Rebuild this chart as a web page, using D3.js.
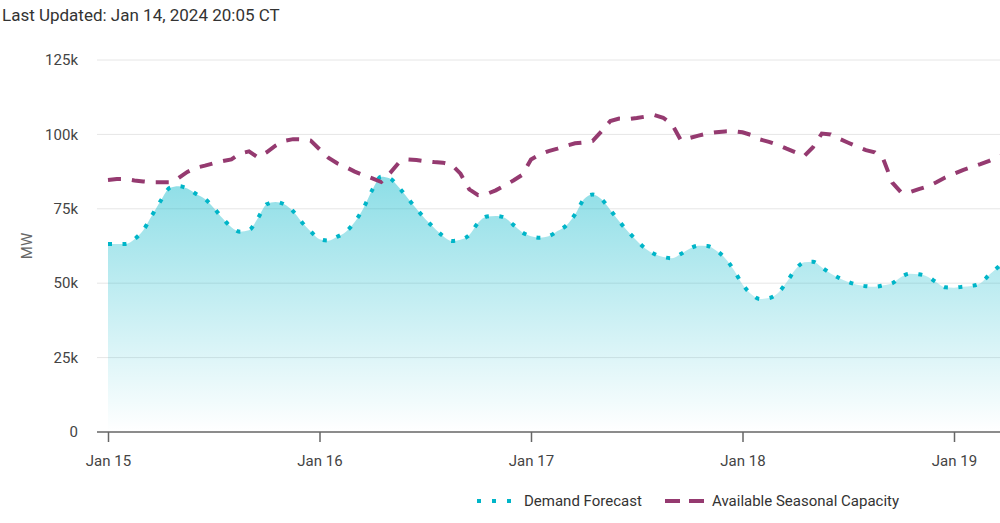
<!DOCTYPE html>
<html>
<head>
<meta charset="utf-8">
<script src="https://cdn.jsdelivr.net/npm/d3@7"></script>
<style>
  html, body { margin: 0; padding: 0; background: #fff; }
  body { width: 1000px; height: 523px; overflow: hidden; font-family: Roboto, "Noto Sans", sans-serif; }
  svg { display: block; }
</style>
</head>
<body>
<svg id="chart" width="1000" height="523"></svg>
<script>
// ---- data (hours after Jan 15, 2024 00:00, values in MW) ----
const startDate = "2024-01-15T00:00:00";
const demandHours = [0,2,3,4,5,6,7,8,9,10,11,12,13,14,15,16,17,18,19,20,21,22,23,24,25,26,27,28,29,30,31,32,33,34,35,36,37,38,39,40,41,42,43,44,45,46,47,48,49,50,51,52,53,54,55,56,57,58,59,60,61,62,63,64,65,66,67,68,69,70,71,72,73,74,75,76,77,78,79,80,81,82,83,84,85,86,87,88,89,90,91,92,93,94,95,96,97,98,99,100,101,102];
const demandValues = [63200,63200,64800,67800,72800,77800,82000,82600,81800,80000,78300,75300,71800,68800,67300,67800,71800,76500,77300,76500,74200,70500,67400,64800,64300,65600,67300,70600,75300,81400,85800,85200,82200,78600,75000,71600,68600,65900,64200,64600,66200,70300,72400,72600,72000,69600,67100,65800,65300,65800,67500,69400,73100,78200,79800,78200,74600,70800,67400,64300,61600,59800,58800,58400,59800,61600,62600,62500,61000,58500,54500,49600,46300,44700,45000,46600,50300,54600,57000,57200,55300,53300,51700,50400,49500,49000,48800,49300,50000,52100,53200,53000,52200,50300,48600,48500,48800,49100,50000,52800,55400,57500];
const capacityHours = [0,1,2,3,4,5,6,7,8,9,10,11,12,13,14,15,16,17,18,19,20,21,22,23,24,25,26,27,28,29,30,31,32,33,34,35,36,37,38,39,40,41,42,43,44,45,46,47,48,49,50,51,52,53,54,55,56,57,58,59,60,61,62,63,64,65,66,67,68,69,70,71,72,73,74,75,76,77,78,79,80,81,82,83,84,85,86,87,88,89,90,91,92,93,94,95,96,97,98,99,100,101,102];
const capacityValues = [84700,85000,85000,84500,84200,83900,83900,83900,85300,87400,88800,89500,90300,91000,91600,93600,94300,92300,94000,96200,97800,98400,98300,97900,95000,92200,90300,89000,87500,86300,85200,84000,87000,90500,91600,91400,91000,90700,90500,89800,86800,81500,79600,80000,81200,82800,84500,86400,91600,93300,94400,95200,96200,97000,97300,97800,101000,104500,105300,105100,105500,106000,106500,105600,103400,98100,98800,99600,100300,100700,101000,101100,100700,99800,98300,97500,96500,95200,94000,92700,95700,100300,100000,98500,97200,95900,94700,94000,91500,83800,80500,80600,81600,82500,83900,85500,86800,88000,89000,90000,91100,92500,93500];
const yTicks = [0, 25000, 50000, 75000, 100000, 125000];
const xTickDates = ["2024-01-15", "2024-01-16", "2024-01-17", "2024-01-18", "2024-01-19"];
const seriesNames = ["Demand Forecast", "Available Seasonal Capacity"];
const titleText = "Last Updated: Jan 14, 2024 20:05 CT";

// ---- build ----
const t0 = new Date(startDate);
const toDate = h => new Date(t0.getTime() + h * 3600 * 1000);
const demand = demandHours.map((h, i) => ({ t: toDate(h), v: demandValues[i] }));
const capacity = capacityHours.map((h, i) => ({ t: toDate(h), v: capacityValues[i] }));
const xTicks = xTickDates.map(d => new Date(d + "T00:00:00"));

const svg = d3.select("#chart");

const x = d3.scaleTime().domain([xTicks[0], xTicks[4]]).range([108, 954]);
const y = d3.scaleLinear().domain([0, 125000]).range([432, 60]);

const demandColor = "#00b5c8";
const capColor = "#953a70";
const FONT = "Roboto, 'Noto Sans', sans-serif";

const defs = svg.append("defs");
defs.append("clipPath").attr("id", "plotClip")
  .append("rect").attr("x", 97).attr("y", 0).attr("width", 903).attr("height", 432);

const grad = defs.append("linearGradient").attr("id", "areaGrad")
  .attr("x1", 0).attr("y1", 0).attr("x2", 0).attr("y2", 1);
grad.append("stop").attr("offset", "0%").attr("stop-color", demandColor).attr("stop-opacity", 0.45);
grad.append("stop").attr("offset", "100%").attr("stop-color", demandColor).attr("stop-opacity", 0.0);

// title
svg.append("text").attr("x", 2).attr("y", 21)
  .attr("font-size", 17).attr("fill", "#333").text(titleText);

// gridlines + y labels
const yAxis = svg.append("g");
yTicks.forEach(v => {
  if (v > 0) {
    yAxis.append("line").attr("x1", 97).attr("x2", 1000)
      .attr("y1", y(v)).attr("y2", y(v))
      .attr("stroke", "#e6e6e6").attr("stroke-width", 1);
  }
  yAxis.append("text").attr("x", 78).attr("y", y(v)).attr("dy", "0.35em")
    .attr("text-anchor", "end").attr("font-size", 15).attr("fill", "#444")
    .text(v === 0 ? "0" : d3.format("d")(v / 1000) + "k");
});

// y title
svg.append("text")
  .attr("transform", `translate(32,${y(62500)}) rotate(-90)`)
  .attr("text-anchor", "middle").attr("font-size", 15).attr("fill", "#666")
  .text("MW");

const plot = svg.append("g").attr("clip-path", "url(#plotClip)");

// area
const area = d3.area().x(d => x(d.t)).y0(y(0)).y1(d => y(d.v)).curve(d3.curveMonotoneX);
plot.append("path").datum(demand).attr("d", area).attr("fill", "url(#areaGrad)");

// demand line (dotted)
const line = d3.line().x(d => x(d.t)).y(d => y(d.v)).curve(d3.curveMonotoneX);
plot.append("path").datum(demand)
  .attr("d", line)
  .attr("fill", "none").attr("stroke", demandColor)
  .attr("stroke-width", 4).attr("stroke-dasharray", "4 10.5");

// capacity line (dashed)
const line2 = d3.line().x(d => x(d.t)).y(d => y(d.v)).curve(d3.curveLinear);
plot.append("path").datum(capacity)
  .attr("d", line2)
  .attr("fill", "none").attr("stroke", capColor)
  .attr("stroke-width", 4).attr("stroke-dasharray", "13 11");

// x axis
const xAxisG = svg.append("g").attr("transform", `translate(0,${y(0)})`)
  .call(d3.axisBottom(x).tickValues(xTicks).tickFormat(d3.timeFormat("%b %-d")).tickSize(10).tickPadding(13));
xAxisG.select(".domain").remove();
xAxisG.insert("line", ":first-child").attr("x1", 97).attr("x2", 1000).attr("y1", 0).attr("y2", 0)
  .attr("stroke", "#666").attr("stroke-width", 1.5);
xAxisG.selectAll(".tick line").attr("stroke", "#666").attr("stroke-width", 1.5);
xAxisG.selectAll(".tick text").attr("font-size", 15).attr("fill", "#444")
  .attr("font-family", FONT);

// legend
const lg = svg.append("g").attr("transform", "translate(0,501)");
lg.append("line").attr("x1", 477).attr("x2", 512).attr("y1", 0).attr("y2", 0)
  .attr("stroke", demandColor).attr("stroke-width", 4).attr("stroke-dasharray", "4 11");
lg.append("text").attr("x", 524).attr("y", 0).attr("dy", "0.35em")
  .attr("font-size", 15).attr("fill", "#333").text(seriesNames[0]);
lg.append("line").attr("x1", 665).attr("x2", 704).attr("y1", 0).attr("y2", 0)
  .attr("stroke", capColor).attr("stroke-width", 4).attr("stroke-dasharray", "15 9");
lg.append("text").attr("x", 712).attr("y", 0).attr("dy", "0.35em")
  .attr("font-size", 15).attr("fill", "#333").text(seriesNames[1]);
</script>
</body>
</html>
